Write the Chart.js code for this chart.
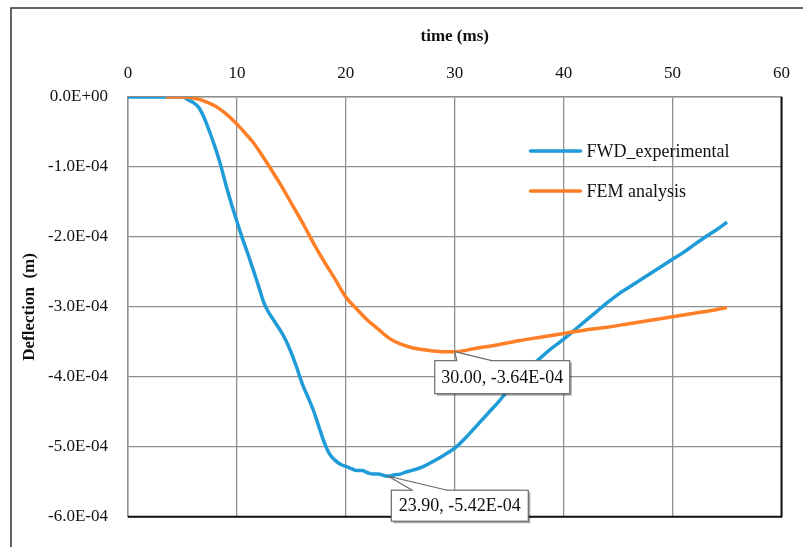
<!DOCTYPE html>
<html>
<head>
<meta charset="utf-8">
<script src="https://cdn.jsdelivr.net/npm/chart.js@4.4.1/dist/chart.umd.min.js"></script>
<style>
  html, body { margin: 0; padding: 0; background: #fff; }
</style>
</head>
<body>
<canvas id="deflectionChart" width="803" height="547"></canvas>
<script>
// deflections are written in units of 1E-04 m, scaled to metres below
const DEFL_UNIT = 1e-4;

const timeFwd = [0, 4, 5, 5.5, 6, 6.5, 7, 7.5, 8, 8.5, 9, 9.5, 10, 10.5, 11, 11.5, 12, 12.5, 13, 13.5,
    14, 14.5, 15, 15.5, 16, 16.5, 17, 17.5, 18, 18.5, 19, 19.5, 20, 20.5, 21, 21.5, 22, 22.5, 23, 23.5,
    23.9, 24.5, 25, 25.5, 26, 27, 28, 29, 30, 31, 32, 33, 34, 35, 36, 37, 38, 39, 40, 41, 42, 43, 44,
    45, 46, 47, 48, 49, 50, 51, 52, 53, 54, 55];
const deflFwd = [0, 0, 0, -0.04, -0.08, -0.15, -0.3, -0.5, -0.72, -0.97, -1.26, -1.53, -1.78, -2.02, -2.24, -2.47, -2.71, -2.95, -3.1, -3.22,
    -3.34, -3.48, -3.66, -3.87, -4.1, -4.28, -4.47, -4.7, -4.93, -5.1, -5.19, -5.25, -5.28, -5.31, -5.34, -5.34, -5.37, -5.39, -5.39, -5.41,
    -5.42, -5.4, -5.39, -5.36, -5.34, -5.29, -5.21, -5.12, -5.02, -4.87, -4.7, -4.53, -4.36, -4.17, -3.98, -3.85, -3.71, -3.58, -3.46, -3.33, -3.2, -3.07, -2.94,
    -2.82, -2.72, -2.62, -2.52, -2.42, -2.32, -2.22, -2.11, -2.0, -1.9, -1.79];

const timeFem = [3.5, 5, 5.5, 6, 6.5, 7, 7.5, 8, 8.5, 9, 9.5, 10, 10.5, 11, 11.5, 12, 13, 14, 15, 16,
    17, 18, 19, 20, 21, 22, 23, 24, 25, 26, 27, 28, 29, 30, 32, 34, 36, 38, 40, 42, 44, 46, 48, 50, 52, 54, 55];
const deflFem = [0, 0, -0.005, -0.015, -0.03, -0.06, -0.09, -0.13, -0.18, -0.24, -0.31, -0.39, -0.47, -0.56, -0.65, -0.76, -1.0, -1.25, -1.52, -1.79,
    -2.08, -2.35, -2.6, -2.86, -3.03, -3.19, -3.32, -3.45, -3.53, -3.58, -3.61, -3.63, -3.64, -3.64, -3.59, -3.54, -3.48, -3.43, -3.38, -3.33, -3.29, -3.24, -3.19, -3.14, -3.09, -3.04, -3.01];

const xTicks = [0, 10, 20, 30, 40, 50, 60];
const yTicks = [0, -1, -2, -3, -4, -5, -6];
const seriesNames = ["FWD_experimental", "FEM analysis"];
const seriesColors = ["#1F9BD7", "#FF7F27"];

// labelled points: [series index, time]
const calloutPoints = [[1, 30.0], [0, 23.9]];

const SERIF = "'Liberation Serif', 'Times New Roman', serif";

const toPoints = (times, defls) => times.map((t, i) => ({ x: t, y: defls[i] * DEFL_UNIT }));

// 0.0E+00 style labels
const sciLabel = (v, digits) => {
    const [mant, exp] = v.toExponential(digits).split("e");
    const sign = exp[0] === "-" ? "-" : "+";
    const num = exp.replace(/^[+-]/, "").padStart(2, "0");
    return `${mant}E${sign}${num}`;
}

const drawCallout = (ctx, px, py, text, box, wedge) => {
    const x0 = px + box.dx, y0 = py + box.dy;
    ctx.save();
    // shadow
    ctx.fillStyle = "rgba(0,0,0,0.35)";
    ctx.fillRect(x0 + 2, y0 + 2, box.w, box.h);
    ctx.fillStyle = "#fff";
    ctx.fillRect(x0, y0, box.w, box.h);
    ctx.strokeStyle = "#6b6b6b";
    ctx.lineWidth = 1.2;
    ctx.strokeRect(x0, y0, box.w, box.h);
    // pointer wedge, open towards the box
    ctx.fillStyle = "#fff";
    ctx.fillRect(px + wedge[0] + 1, y0 - 1, wedge[1] - wedge[0] - 2, 3);
    ctx.beginPath();
    ctx.moveTo(px + wedge[0], y0);
    ctx.lineTo(px, py);
    ctx.lineTo(px + wedge[1], y0);
    ctx.closePath();
    ctx.fill();
    ctx.beginPath();
    ctx.moveTo(px + wedge[0], y0);
    ctx.lineTo(px, py);
    ctx.lineTo(px + wedge[1], y0);
    ctx.stroke();
    ctx.fillStyle = "#111";
    ctx.font = `18px ${SERIF}`;
    ctx.textAlign = "center";
    ctx.textBaseline = "middle";
    ctx.fillText(text, x0 + box.w / 2, y0 + box.h / 2 + 1);
    ctx.restore();
}

const chartPlugin = {
    id: "excelLook",
    beforeDraw: (chart) => {
        const ctx = chart.ctx;
        ctx.save();
        ctx.fillStyle = "#fff";
        ctx.fillRect(0, 0, chart.width, chart.height);
        ctx.strokeStyle = "#333";
        ctx.lineWidth = 1.5;
        ctx.strokeRect(11, 8, chart.width + 20, chart.height + 20);
        ctx.restore();
    },
    afterDraw: (chart) => {
        const ctx = chart.ctx;
        const area = chart.chartArea;
        const xs = chart.scales.x, ys = chart.scales.y;

        // right and bottom plot border in black
        ctx.save();
        ctx.strokeStyle = "#111";
        ctx.lineWidth = 2;
        ctx.beginPath();
        ctx.moveTo(area.right, area.top);
        ctx.lineTo(area.right, area.bottom);
        ctx.lineTo(area.left, area.bottom);
        ctx.stroke();
        ctx.restore();

        // legend inside the plot
        ctx.save();
        seriesNames.forEach((name, i) => {
            const ly = area.top + 54 + i * 40;
            const lx = area.right - 251;
            ctx.strokeStyle = seriesColors[i];
            ctx.lineWidth = 3.5;
            ctx.lineCap = "round";
            ctx.beginPath();
            ctx.moveTo(lx, ly);
            ctx.lineTo(lx + 50, ly);
            ctx.stroke();
            ctx.fillStyle = "#111";
            ctx.font = `18px ${SERIF}`;
            ctx.textAlign = "left";
            ctx.textBaseline = "middle";
            ctx.fillText(name, lx + 56, ly + 1);
        });
        ctx.restore();

        // data callouts
        const boxes = [
            { box: { dx: -20, dy: 9, w: 135, h: 33 }, wedge: [2, 37] },
            { box: { dx: 3, dy: 14, w: 137, h: 31 }, wedge: [24, 59] },
        ];
        calloutPoints.forEach(([s, t], i) => {
            const times = s === 0 ? timeFwd : timeFem;
            const defls = s === 0 ? deflFwd : deflFem;
            const idx = times.indexOf(t);
            const val = defls[idx] * DEFL_UNIT;
            const px = xs.getPixelForValue(t);
            const py = ys.getPixelForValue(val);
            drawCallout(ctx, px, py, `${t.toFixed(2)}, ${sciLabel(val, 2)}`, boxes[i].box, boxes[i].wedge);
        });
    }
};

new Chart(document.getElementById("deflectionChart"), {
    type: "scatter",
    data: {
        datasets: [
            {
                label: seriesNames[0],
                data: toPoints(timeFwd, deflFwd),
                showLine: true,
                borderColor: seriesColors[0],
                borderWidth: 3.5,
                pointRadius: 0,
                cubicInterpolationMode: "monotone",
                order: 2,
            },
            {
                label: seriesNames[1],
                data: toPoints(timeFem, deflFem),
                showLine: true,
                borderColor: seriesColors[1],
                borderWidth: 3.5,
                pointRadius: 0,
                cubicInterpolationMode: "monotone",
                order: 1,
            },
        ],
    },
    options: {
        responsive: false,
        animation: false,
        layout: { padding: { left: 0, top: 0, right: 20, bottom: 28 } },
        plugins: {
            legend: { display: false },
            tooltip: { enabled: false },
        },
        scales: {
            x: {
                type: "linear",
                position: "top",
                min: 0,
                max: 60,
                afterFit: (scale) => { scale.height = 97; },
                afterBuildTicks: (scale) => { scale.ticks = xTicks.map(v => ({ value: v })); },
                grid: { color: "#8f8f8f", lineWidth: 1.3, drawTicks: false },
                border: { color: "#8f8f8f", width: 1.5 },
                ticks: {
                    color: "#111",
                    padding: 13,
                    maxRotation: 0,
                    font: { family: SERIF, size: 17 },
                },
                title: {
                    display: true,
                    text: "time (ms)",
                    color: "#111",
                    padding: { top: 26 },
                    font: { family: SERIF, size: 17, weight: "bold" },
                },
            },
            y: {
                type: "linear",
                min: -6 * DEFL_UNIT,
                max: 0,
                afterFit: (scale) => { scale.width = 128; },
                afterBuildTicks: (scale) => { scale.ticks = yTicks.map(v => ({ value: v * DEFL_UNIT })); },
                grid: { color: "#8f8f8f", lineWidth: 1.3, drawTicks: false },
                border: { color: "#8f8f8f", width: 1.5 },
                ticks: {
                    color: "#111",
                    padding: 20,
                    font: { family: SERIF, size: 17 },
                    callback: (v) => sciLabel(v, 1),
                },
                title: {
                    display: true,
                    text: "Deflection  (m)",
                    color: "#111",
                    padding: { top: 19 },
                    font: { family: SERIF, size: 17, weight: "bold" },
                },
            },
        },
    },
    plugins: [chartPlugin],
});
</script>
</body>
</html>
